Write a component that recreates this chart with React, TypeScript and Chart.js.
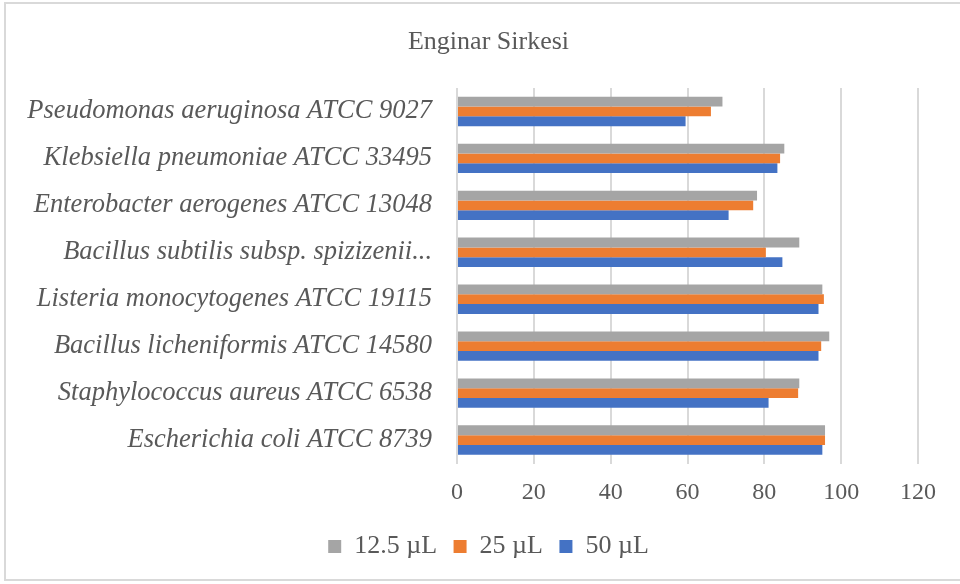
import React, { useEffect, useRef } from "react";
import { Chart, registerables } from "chart.js";

Chart.register(...registerables);

const title = "Enginar Sirkesi";
const categories = [
  "Pseudomonas aeruginosa ATCC 9027",
  "Klebsiella pneumoniae ATCC 33495",
  "Enterobacter aerogenes ATCC 13048",
  "Bacillus subtilis subsp. spizizenii...",
  "Listeria monocytogenes ATCC 19115",
  "Bacillus licheniformis ATCC 14580",
  "Staphylococcus aureus ATCC 6538",
  "Escherichia coli ATCC 8739",
];
const seriesNames = ["12.5 µL", "25 µL", "50 µL"];
const values12_5 = [69.1, 85.2, 78.1, 89.1, 95.1, 96.9, 89.1, 95.8];
const values25 = [66.1, 84.1, 77.1, 80.4, 95.5, 94.8, 88.8, 95.8];
const values50 = [59.5, 83.4, 70.7, 84.7, 94.1, 94.1, 81.1, 95.1];
const xTicks = [0, 20, 40, 60, 80, 100, 120];
const colors = ["#A5A5A5", "#ED7D31", "#4472C4"];

const TEXT = "#595959";
const SERIF = "'Liberation Serif', 'Times New Roman', serif";

export default function App() {
  const ref = useRef<HTMLCanvasElement | null>(null);
  useEffect(() => {
    if (!ref.current) return;
    const borderPlugin = {
      id: "outerBorder",
      afterLayout(chart: any) {
        // centre title and legend on the same span as the reference
        if (chart.titleBlock) chart.titleBlock.left = 59;
        if (chart.legend) chart.legend.left = 59;
      },
      beforeDraw(chart: any) {
        const ctx = chart.ctx;
        ctx.save();
        ctx.fillStyle = "#ffffff";
        ctx.fillRect(0, 0, chart.width, chart.height);
        ctx.strokeStyle = "#d9d9d9";
        ctx.lineWidth = 2;
        ctx.strokeRect(5, 3, 970, 577);
        ctx.restore();
      },
    };
    const chart = new Chart(ref.current, {
      type: "bar",
      data: {
        labels: categories,
        datasets: [values12_5, values25, values50].map((d, i) => ({
          label: seriesNames[i],
          data: d,
          backgroundColor: colors[i],
          borderWidth: 0,
          categoryPercentage: 0.625,
          barPercentage: 1,
        })),
      },
      plugins: [borderPlugin],
      options: {
        indexAxis: "y",
        animation: false,
        responsive: false,
        layout: { padding: { left: 0, right: 42, top: 0, bottom: 14.5 } },
        plugins: {
          title: {
            display: true,
            text: title,
            color: TEXT,
            font: { family: SERIF, size: 26, weight: "normal", lineHeight: 1.2 },
            padding: { top: 27, bottom: 29.8 },
          },
          legend: {
            position: "bottom",
            labels: {
              color: TEXT,
              font: { family: SERIF, size: 26 },
              boxWidth: 13,
              boxHeight: 13,
              padding: 16.5,
            },
          },
          tooltip: { enabled: false },
        },
        scales: {
          x: {
            min: 0,
            max: 120,
            afterBuildTicks(scale: any) {
              scale.ticks = xTicks.map((v) => ({ value: v }));
            },
            afterFit(scale: any) {
              scale.height = 53.5;
            },
            ticks: {
              color: TEXT,
              font: { family: SERIF, size: 24 },
              padding: 15,
              maxRotation: 0,
            },
            grid: { color: "#d9d9d9", lineWidth: 2, drawTicks: false },
            border: { display: false },
          },
          y: {
            afterFit(scale: any) {
              scale.width = 457;
            },
            ticks: {
              color: TEXT,
              font: { family: SERIF, size: 26.5, style: "italic" },
              padding: 25,
              autoSkip: false,
            },
            grid: { display: false, drawTicks: false },
            border: { display: false },
          },
        },
      },
    } as any);
    return () => chart.destroy();
  }, []);
  return (
    <div style={{ position: "fixed", left: 0, top: 0, width: 960, height: 584 }}>
      <canvas ref={ref} width={960} height={584} />
    </div>
  );
}
